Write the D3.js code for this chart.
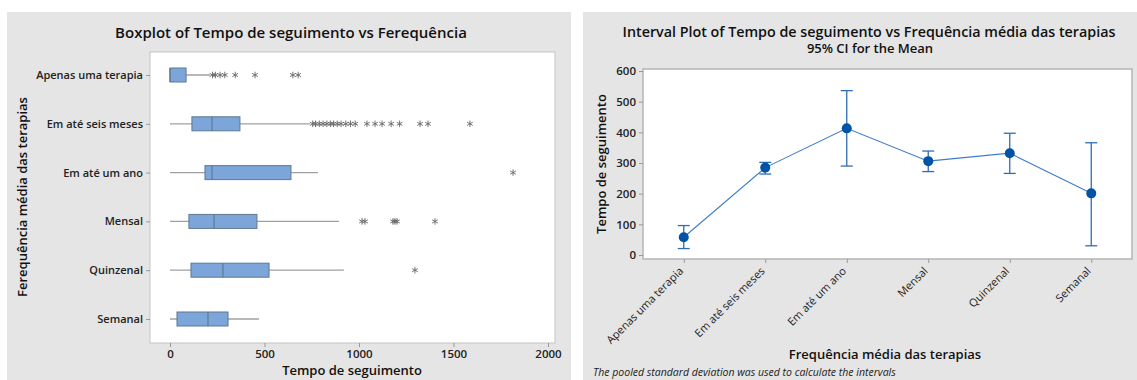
<!DOCTYPE html>
<html>
<head>
<meta charset="utf-8">
<script src="https://cdn.jsdelivr.net/npm/d3@7"></script>
<style>
  body { margin: 0; background: #fff; }
  svg { display: block; font-family: "Open Sans", "Noto Sans", sans-serif; }
  .tick text { fill: #222; font-weight: 600; }
</style>
</head>
<body>
<div id="chart"></div>
<script>
// Boxplot data (Tempo de seguimento por frequência)
const categories = ['Apenas uma terapia', 'Em até seis meses', 'Em até um ano', 'Mensal', 'Quinzenal', 'Semanal'];
const whiskerLow = [0, 0, 0, 0, 0, 0];
const q1 = [0, 116, 185, 100, 111, 37];
const medians = [0, 222, 222, 233, 280, 201];
const q3 = [85, 370, 640, 460, 524, 307];
const whiskerHigh = [212, 740, 783, 894, 920, 471];
const outliers = [
    [225, 240, 265, 290, 345, 450, 650, 678],
    [755, 770, 790, 810, 830, 850, 865, 885, 905, 930, 955, 980, 1042, 1085, 1122, 1170, 1215, 1323, 1365, 1587],
    [1815],
    [1016, 1032, 1180, 1190, 1201, 1402],
    [1296],
    []
];
const xTicks = [0, 500, 1000, 1500, 2000];

// Interval plot data (95% CI for the mean)
const means = [58, 285, 413, 306, 332, 201];
const ciLow = [21, 264, 290, 272, 266, 30];
const ciHigh = [96, 302, 536, 339, 397, 366];
const yTicks = [0, 100, 200, 300, 400, 500, 600];

const FONT = '"Open Sans", "Noto Sans", sans-serif';

const svg = d3.select('#chart').append('svg')
    .attr('width', 1137)
    .attr('height', 380);

// panel backgrounds
svg.append('rect').attr('x', 7).attr('y', 12).attr('width', 564).attr('height', 368).attr('fill', '#e5e5e5');
svg.append('rect').attr('x', 583).attr('y', 12).attr('width', 554).attr('height', 368).attr('fill', '#e5e5e5');

// ---------- left: boxplot ----------
const L = { left: 150, top: 52, right: 555, bottom: 343 };
svg.append('rect')
    .attr('x', L.left).attr('y', L.top)
    .attr('width', L.right - L.left).attr('height', L.bottom - L.top)
    .attr('fill', '#fff').attr('stroke', '#c4c4c4');

const x = d3.scaleLinear().domain([0, 2000]).range([170, 548]);
const yBand = d3.scalePoint().domain(categories).range([75, 319]);

const xAxis = svg.append('g')
    .attr('transform', `translate(0,${L.bottom})`)
    .call(d3.axisBottom(x).tickValues(xTicks).tickFormat(d3.format('d')).tickSize(4).tickPadding(3))
    .attr('font-family', FONT);
xAxis.select('.domain').remove();
xAxis.selectAll('line').attr('stroke', '#999');
xAxis.selectAll('text').style('font-size', '11.5px');

const yAxis = svg.append('g')
    .attr('transform', `translate(${L.left},0)`)
    .call(d3.axisLeft(yBand).tickSize(4).tickPadding(3))
    .attr('font-family', FONT);
yAxis.select('.domain').remove();
yAxis.selectAll('line').attr('stroke', '#999');
yAxis.selectAll('text').style('font-size', '11px');

const boxH = 14;
const rows = svg.append('g').selectAll('g')
    .data(categories)
    .enter().append('g');

rows.append('line')
    .attr('x1', (d, i) => x(whiskerLow[i]))
    .attr('x2', (d, i) => x(whiskerHigh[i]))
    .attr('y1', d => yBand(d))
    .attr('y2', d => yBand(d))
    .attr('stroke', '#a0a0a0')
    .attr('stroke-width', 1.3);

rows.append('rect')
    .attr('x', (d, i) => x(q1[i]))
    .attr('width', (d, i) => x(q3[i]) - x(q1[i]))
    .attr('y', d => yBand(d) - boxH / 2)
    .attr('height', boxH)
    .attr('fill', '#7ca6da')
    .attr('stroke', '#5f7890');

rows.append('line')
    .attr('x1', (d, i) => x(medians[i]))
    .attr('x2', (d, i) => x(medians[i]))
    .attr('y1', d => yBand(d) - boxH / 2)
    .attr('y2', d => yBand(d) + boxH / 2)
    .attr('stroke', '#5f7890')
    .attr('stroke-width', 1.2);

const star = d3.symbol().type(d3.symbolAsterisk).size(30);
rows.each(function(d, i) {
    d3.select(this).selectAll('path.out')
        .data(outliers[i])
        .enter().append('path')
        .attr('class', 'out')
        .attr('d', star)
        .attr('transform', v => `translate(${x(v)},${yBand(d)})`)
        .attr('fill', 'none')
        .attr('stroke', '#666')
        .attr('stroke-width', 0.9);
});

svg.append('text')
    .attr('x', 291).attr('y', 38)
    .attr('text-anchor', 'middle')
    .style('font-size', '15px').style('font-weight', 600).attr('fill', '#111')
    .text('Boxplot of Tempo de seguimento vs Ferequência');

svg.append('text')
    .attr('x', 352).attr('y', 375)
    .attr('text-anchor', 'middle')
    .style('font-size', '13px').style('font-weight', 600).attr('fill', '#111')
    .text('Tempo de seguimento');

svg.append('text')
    .attr('transform', 'translate(27,197) rotate(-90)')
    .attr('text-anchor', 'middle')
    .style('font-size', '13px').style('font-weight', 600).attr('fill', '#111')
    .text('Ferequência média das terapias');

// ---------- right: interval plot ----------
const R = { left: 643, top: 69, right: 1132, bottom: 259 };
svg.append('rect')
    .attr('x', R.left).attr('y', R.top)
    .attr('width', R.right - R.left).attr('height', R.bottom - R.top)
    .attr('fill', '#fff').attr('stroke', '#b5b5b5').attr('stroke-width', 1.5);

const xp = d3.scalePoint().domain(categories).range([R.left, R.right]).padding(0.5);
const yv = d3.scaleLinear().domain([0, 600]).range([255, 71]);

const ry = svg.append('g')
    .attr('transform', `translate(${R.left},0)`)
    .call(d3.axisLeft(yv).tickValues(yTicks).tickSize(4).tickPadding(3))
    .attr('font-family', FONT);
ry.select('.domain').remove();
ry.selectAll('line').attr('stroke', '#999');
ry.selectAll('text').style('font-size', '11.5px');

const rx = svg.append('g')
    .attr('transform', `translate(0,${R.bottom})`)
    .call(d3.axisBottom(xp).tickSize(4).tickPadding(0))
    .attr('font-family', FONT);
rx.select('.domain').remove();
rx.selectAll('line').attr('stroke', '#999');
rx.selectAll('text')
    .style('font-size', '11px')
    .style('font-weight', 400)
    .attr('text-anchor', 'end')
    .attr('y', 0)
    .attr('dy', '0.35em')
    .attr('transform', 'translate(-3,10) rotate(-45)');

const line = d3.line()
    .x(d => xp(d))
    .y((d, i) => yv(means[i]));
svg.append('path')
    .datum(categories)
    .attr('d', line)
    .attr('fill', 'none')
    .attr('stroke', '#3d7cc9')
    .attr('stroke-width', 1.1);

const bars = svg.append('g').selectAll('g')
    .data(categories)
    .enter().append('g');
bars.append('line')
    .attr('x1', d => xp(d)).attr('x2', d => xp(d))
    .attr('y1', (d, i) => yv(ciLow[i]))
    .attr('y2', (d, i) => yv(ciHigh[i]))
    .attr('stroke', '#2f6db5').attr('stroke-width', 1.3);
[ciLow, ciHigh].forEach(arr => {
    bars.append('line')
        .attr('x1', d => xp(d) - 6).attr('x2', d => xp(d) + 6)
        .attr('y1', (d, i) => yv(arr[i]))
        .attr('y2', (d, i) => yv(arr[i]))
        .attr('stroke', '#2f6db5').attr('stroke-width', 1.3);
});
bars.append('circle')
    .attr('cx', d => xp(d))
    .attr('cy', (d, i) => yv(means[i]))
    .attr('r', 5)
    .attr('fill', '#0054a6');

svg.append('text')
    .attr('x', 869).attr('y', 37)
    .attr('text-anchor', 'middle')
    .style('font-size', '14.3px').style('font-weight', 600).attr('fill', '#111')
    .text('Interval Plot of Tempo de seguimento vs Frequência média das terapias');
svg.append('text')
    .attr('x', 870).attr('y', 53)
    .attr('text-anchor', 'middle')
    .style('font-size', '13px').style('font-weight', 600).attr('fill', '#111')
    .text('95% CI for the Mean');

svg.append('text')
    .attr('x', 885).attr('y', 359)
    .attr('text-anchor', 'middle')
    .style('font-size', '13px').style('font-weight', 600).attr('fill', '#111')
    .text('Frequência média das terapias');

svg.append('text')
    .attr('transform', 'translate(606,164) rotate(-90)')
    .attr('text-anchor', 'middle')
    .style('font-size', '13px').style('font-weight', 600).attr('fill', '#111')
    .text('Tempo de seguimento');

svg.append('text')
    .attr('x', 593).attr('y', 376)
    .style('font-size', '10.5px').style('font-style', 'italic').attr('fill', '#222')
    .text('The pooled standard deviation was used to calculate the intervals');
</script>
</body>
</html>
